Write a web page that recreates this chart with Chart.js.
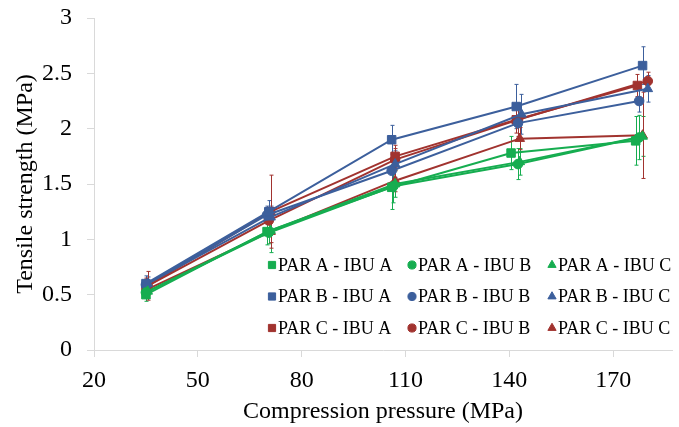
<!DOCTYPE html>
<html>
<head>
<meta charset="utf-8">
<script src="https://cdn.jsdelivr.net/npm/chart.js@4"></script>
<style>
  html, body { margin: 0; padding: 0; background: #fff; }
  #wrap { width: 679px; height: 427px; }
</style>
</head>
<body>
<div id="wrap"><canvas id="chart"></canvas></div>
<script>
/* ── DATA ───────────────────────────────────── */
const seriesNames = [
    'PAR A - IBU A', 'PAR A - IBU B', 'PAR A - IBU C',
    'PAR B - IBU A', 'PAR B - IBU B', 'PAR B - IBU C',
    'PAR C - IBU A', 'PAR C - IBU B', 'PAR C - IBU C'
];
// compression pressure (MPa), one row per series
const pressure = [
    [35.0, 70.0, 106.0, 140.5, 176.5],
    [35.0, 70.5, 106.5, 142.5, 177.5],
    [35.5, 71.0, 107.0, 143.0, 178.5],
    [35.0, 70.5, 106.0, 142.0, 178.5],
    [35.0, 70.0, 106.0, 142.5, 177.5],
    [35.5, 71.0, 107.0, 143.5, 180.0],
    [35.0, 71.0, 107.0, 142.0, 177.0],
    [35.5, 70.5, 107.0, 142.5, 180.0],
    [35.5, 71.0, 107.0, 143.0, 178.5]
];
// tensile strength (MPa)
const strength = [
    [0.50, 1.07, 1.47, 1.78, 1.89],
    [0.52, 1.06, 1.48, 1.68, 1.92],
    [0.53, 1.08, 1.50, 1.70, 1.93],
    [0.60, 1.25, 1.90, 2.20, 2.57],
    [0.59, 1.22, 1.62, 2.05, 2.25],
    [0.60, 1.20, 1.68, 2.13, 2.36],
    [0.57, 1.25, 1.75, 2.08, 2.39],
    [0.58, 1.17, 1.72, 2.08, 2.43],
    [0.55, 1.07, 1.53, 1.91, 1.94]
];
// standard deviation (error bars)
const sd = [
    [0.06, 0.12, 0.20, 0.15, 0.22],
    [0.05, 0.10, 0.15, 0.14, 0.20],
    [0.06, 0.20, 0.12, 0.12, 0.18],
    [0.07, 0.10, 0.13, 0.20, 0.17],
    [0.05, 0.08, 0.10, 0.15, 0.10],
    [0.06, 0.10, 0.12, 0.18, 0.12],
    [0.08, 0.33, 0.10, 0.12, 0.10],
    [0.13, 0.10, 0.10, 0.15, 0.08],
    [0.06, 0.10, 0.10, 0.10, 0.39]
];
const xTicks = [20, 50, 80, 110, 140, 170];
const yTicks = [0, 0.5, 1, 1.5, 2, 2.5, 3];

/* ── STYLE ──────────────────────────────────── */
const FONT = "'Liberation Serif', 'Times New Roman', serif";
const AXIS = '#d9d9d9';
const colours = ['#16ad50', '#3c5f9c', '#a1332f'];   // PAR A, B, C
const shapes  = ['rect', 'circle', 'triangle'];      // IBU A, B, C
const radii   = { rect: 6, circle: 4.8, triangle: 5.6 };

const datasets = seriesNames.map((name, i) => {
    const colour = colours[Math.floor(i / 3)];
    const shape = shapes[i % 3];
    return {
        label: name,
        data: pressure[i].map((x, j) => ({ x, y: strength[i][j], err: sd[i][j] })),
        borderColor: colour, backgroundColor: colour,
        borderWidth: 2, tension: 0,
        pointStyle: shape, pointRadius: radii[shape],
        pointBackgroundColor: colour, pointBorderColor: colour, pointBorderWidth: 1,
        showLine: true
    };
});

/* ── ERROR BARS ─────────────────────────────── */
const errorBars = {
    id: 'errorBars',
    beforeDatasetsDraw(chart) {
        const { ctx, scales: { x, y } } = chart;
        ctx.save();
        ctx.lineWidth = 1;
        chart.data.datasets.forEach(ds => {
            ctx.strokeStyle = ds.borderColor;
            ds.data.forEach(p => {
                const px = Math.round(x.getPixelForValue(p.x)) + 0.5;
                const top = y.getPixelForValue(p.y + p.err);
                const bot = y.getPixelForValue(p.y - p.err);
                ctx.beginPath();
                ctx.moveTo(px, top); ctx.lineTo(px, bot);
                ctx.moveTo(px - 2, top); ctx.lineTo(px + 2, top);
                ctx.moveTo(px - 2, bot); ctx.lineTo(px + 2, bot);
                ctx.stroke();
            });
        });
        ctx.restore();
    }
};

/* ── LEGEND (3 x 3 inside plot) ─────────────── */
const gridLegend = {
    id: 'gridLegend',
    afterDraw(chart) {
        const { ctx, chartArea } = chart;
        const x0 = chartArea.left + 178, y0 = chartArea.top + 247;
        ctx.save();
        ctx.font = '18px ' + FONT;
        ctx.textBaseline = 'middle';
        chart.data.datasets.forEach((ds, i) => {
            const cx = x0 + (i % 3) * 140;
            const cy = y0 + Math.floor(i / 3) * 31.5;
            ctx.fillStyle = ds.borderColor;
            ctx.strokeStyle = ds.borderColor;
            Chart.helpers.drawPoint(ctx, {
                pointStyle: ds.pointStyle, radius: ds.pointRadius * 0.85,
                rotation: 0, borderWidth: 1
            }, cx, cy);
            ctx.fillStyle = '#000';
            ctx.fillText(ds.label, cx + 6, cy + 1);
        });
        ctx.restore();
    }
};

/* ── CHART ──────────────────────────────────── */
new Chart(document.getElementById('chart'), {
    type: 'scatter',
    data: { datasets },
    plugins: [errorBars, gridLegend],
    options: {
        responsive: true, maintainAspectRatio: false, animation: false,
        layout: { padding: { top: 18, right: 0, bottom: 0, left: 0 } },
        plugins: { legend: { display: false }, tooltip: { enabled: false } },
        scales: {
            x: {
                type: 'linear', min: 20, max: 187,
                afterBuildTicks: s => { s.ticks = xTicks.map(v => ({ value: v })); },
                afterFit: s => { s.height = 77; s.paddingLeft = 0; s.paddingRight = 0; },
                grid: { drawOnChartArea: false, drawTicks: true, tickLength: 7, color: AXIS },
                border: { display: true, color: AXIS },
                ticks: { color: '#000', font: { family: FONT, size: 24 }, padding: 9, maxRotation: 0 },
                title: { display: true, text: 'Compression pressure (MPa)', color: '#000',
                         font: { family: FONT, size: 24 }, padding: { top: 0, bottom: 1 } }
            },
            y: {
                min: 0, max: 3,
                afterBuildTicks: s => { s.ticks = yTicks.map(v => ({ value: v })); },
                afterFit: s => { s.width = 94; s.paddingTop = 0; s.paddingBottom = 0; },
                grid: { drawOnChartArea: false, drawTicks: true, tickLength: 7, color: AXIS },
                border: { display: true, color: AXIS },
                ticks: { color: '#000', font: { family: FONT, size: 24 }, padding: 15,
                         callback: v => String(v) },
                title: { display: true, text: 'Tensile strength (MPa)', color: '#000',
                         font: { family: FONT, size: 24 }, padding: { top: 11, bottom: 0 } }
            }
        }
    }
});
</script>
</body>
</html>
